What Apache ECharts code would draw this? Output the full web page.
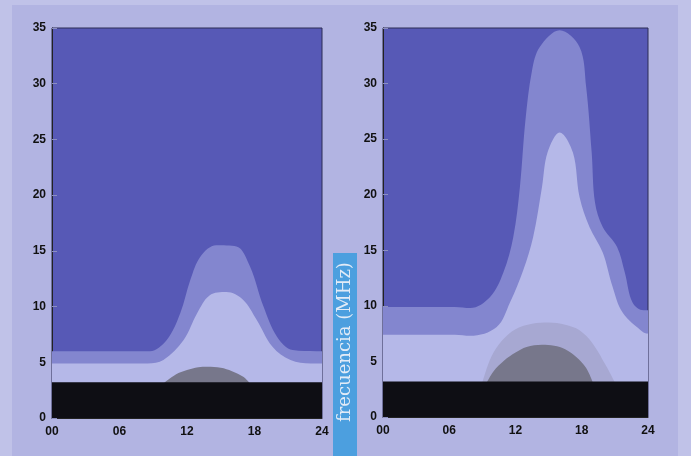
<!DOCTYPE html>
<html>
<head>
<meta charset="utf-8">
<script src="https://cdn.jsdelivr.net/npm/echarts@6/dist/echarts.min.js"></script>
<style>
  html, body { margin: 0; padding: 0; background: #b3b5e3; }
  #chart { width: 691px; height: 456px; }
</style>
</head>
<body>
<div id="chart"></div>
<script>
// ---- data (hour of day, frequency in MHz) ----
const xTicks = [0, 6, 12, 18, 24];
const yTicks = [0, 5, 10, 15, 20, 25, 30, 35];

// Left panel
const leftOuterHours = [0, 7, 8.7, 10.2, 11.4, 12.3, 13.2, 14.6, 16.4, 17.6, 18.8, 20.0, 21.4, 23.5, 24];
const leftOuterVals  = [6.0, 6.0, 6.0, 7.0, 9.4, 12.4, 14.5, 15.5, 15.4, 13.6, 10.0, 7.3, 6.1, 6.0, 6.0];
const leftInnerHours = [0, 8.5, 9.9, 11.7, 12.9, 14.0, 15.5, 17.0, 18.2, 19.6, 21.2, 23, 24];
const leftInnerVals  = [4.9, 4.9, 5.2, 7.0, 9.4, 11.0, 11.3, 10.6, 8.8, 6.4, 5.2, 4.9, 4.9];
const leftDomeHours  = [9.9, 11, 12, 13, 13.8, 15, 16, 17, 17.6];
const leftDomeVals   = [3.1, 3.9, 4.3, 4.55, 4.6, 4.5, 4.2, 3.7, 3.1];

// Right panel
const rightOuterHours = [0, 6.5, 7.9, 9.7, 10.9, 11.8, 12.4, 12.9, 13.5, 14.2, 16.0, 17.8, 18.4, 18.9, 19.2, 19.9, 21.2, 21.9, 22.6, 23.6, 24];
const rightOuterVals  = [9.9, 9.9, 9.8, 10.8, 13.0, 16.2, 20.7, 26.7, 31.2, 33.3, 34.8, 33.3, 29.7, 23.8, 19.3, 17.1, 15.3, 13.0, 10.3, 9.6, 9.6];
const rightInnerHours = [0, 6.5, 7.9, 10.3, 11.5, 12.7, 13.6, 14.4, 14.9, 16.0, 17.2, 17.8, 18.7, 19.9, 20.8, 21.7, 23.6, 24];
const rightInnerVals  = [7.4, 7.4, 7.3, 8.1, 10.3, 13.2, 16.2, 20.7, 23.8, 25.6, 23.8, 19.8, 17.1, 14.8, 11.7, 9.4, 7.6, 7.5];
const rightHaloHours  = [9.0, 9.8, 10.8, 12, 13.5, 15, 16.5, 17.8, 19, 20.2, 21];
const rightHaloVals   = [3.1, 5.4, 6.9, 7.9, 8.4, 8.5, 8.3, 7.8, 6.6, 4.6, 3.1];
const rightDomeHours  = [9.4, 10, 11, 12, 13, 14.4, 15.5, 16.5, 17.5, 18.4, 19];
const rightDomeVals   = [3.1, 4.1, 5.1, 5.8, 6.3, 6.5, 6.4, 6.1, 5.4, 4.4, 3.1];

// Black band (absorption region) on both panels
const bandHours = [0, 24];
const bandVals  = [3.2, 3.2];

const axisTitle = 'frecuencia (MHz)';

// ---- styles ----
const C_DARK = '#5759b6';
const C_MID = '#8386cf';
const C_LIGHT = '#b5b8e8';
const C_HALO = '#a7a8d2';
const C_DOME = '#77778b';
const C_BAND = '#0e0e14';

const zip = (xs, ys) => xs.map((x, i) => [x, ys[i]]);

function area(idx, xs, ys, color, smooth) {
  return {
    type: 'line',
    xAxisIndex: idx, yAxisIndex: idx,
    data: zip(xs, ys),
    smooth: smooth === undefined ? 0.35 : smooth,
    symbol: 'none',
    lineStyle: { width: 0 },
    areaStyle: { color: color, opacity: 1 },
    silent: true
  };
}

const labelStyle = { color: '#111', fontWeight: 'bold', fontSize: 12, fontFamily: 'Liberation Sans, Arial, sans-serif' };

function xAxis(idx) {
  return {
    type: 'value', gridIndex: idx, min: 0, max: 24, interval: 6,
    axisLine: { show: true, lineStyle: { color: '#222' } },
    axisTick: { show: false },
    splitLine: { show: false },
    axisLabel: Object.assign({ margin: 8, formatter: v => String(v).padStart(2, '0') }, labelStyle)
  };
}
function yAxis(idx) {
  return {
    type: 'value', gridIndex: idx, min: 0, max: 35, interval: 5,
    axisLine: { show: true, lineStyle: { color: '#222' } },
    axisTick: { show: true, inside: true, length: 5, lineStyle: { color: '#8c8fc0' } },
    splitLine: { show: false },
    axisLabel: Object.assign({ margin: 6 }, labelStyle)
  };
}

const chart = echarts.init(document.getElementById('chart'), null, { renderer: 'canvas' });
chart.setOption({
  animation: false,
  backgroundColor: '#c0c2e8',
  graphic: [
    { type: 'rect', z: -10, shape: { x: 12, y: 5, width: 666, height: 451 }, style: { fill: '#b2b4e2' } },
    { type: 'rect', z: 100, shape: { x: 333, y: 253, width: 24, height: 203 }, style: { fill: '#4c9fdf' } },
    { type: 'text', z: 101, x: 345, y: 342, rotation: Math.PI / 2,
      style: { text: axisTitle, fill: '#e2ebf7', font: '18px "DejaVu Serif", "Liberation Serif", serif',
               align: 'center', verticalAlign: 'middle' } }
  ],
  grid: [
    { left: 52, top: 28, width: 270, height: 390, show: true, backgroundColor: C_DARK, borderColor: '#2c2c55', borderWidth: 1 },
    { left: 383, top: 28, width: 265, height: 389, show: true, backgroundColor: C_DARK, borderColor: '#2c2c55', borderWidth: 1 }
  ],
  xAxis: [xAxis(0), xAxis(1)],
  yAxis: [yAxis(0), yAxis(1)],
  series: [
    area(0, leftOuterHours, leftOuterVals, C_MID),
    area(0, leftInnerHours, leftInnerVals, C_LIGHT),
    area(0, leftDomeHours, leftDomeVals, C_DOME),
    area(0, bandHours, bandVals, C_BAND, false),
    area(1, rightOuterHours, rightOuterVals, C_MID),
    area(1, rightInnerHours, rightInnerVals, C_LIGHT),
    area(1, rightHaloHours, rightHaloVals, C_HALO),
    area(1, rightDomeHours, rightDomeVals, C_DOME),
    area(1, bandHours, bandVals, C_BAND, false)
  ]
});
</script>
</body>
</html>
